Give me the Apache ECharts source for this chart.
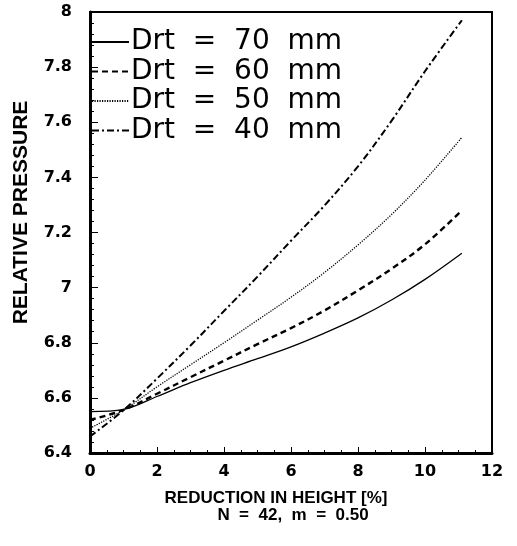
<!DOCTYPE html>
<html>
<head>
<meta charset="utf-8">
<script src="https://cdn.jsdelivr.net/npm/echarts@6/dist/echarts.min.js"></script>
<style>html,body{margin:0;padding:0;background:#fff}#c{width:517px;height:546px}</style>
</head>
<body>
<div id="c"></div>
<script>
var xValues = [0, 1, 2, 3, 4, 5, 6, 7, 8, 9, 10, 11.1];
var seriesNames = ['Drt  =  70  mm', 'Drt  =  60  mm', 'Drt  =  50  mm', 'Drt  =  40  mm'];
var drt70 = [6.55, 6.558, 6.605, 6.655, 6.70, 6.742, 6.785, 6.835, 6.89, 6.955, 7.03, 7.125];
var drt60 = [6.52, 6.556, 6.615, 6.675, 6.735, 6.795, 6.853, 6.917, 6.99, 7.068, 7.157, 7.28];
var drt50 = [6.49, 6.556, 6.64, 6.72, 6.80, 6.882, 6.965, 7.055, 7.155, 7.265, 7.39, 7.545];
var drt40 = [6.46, 6.555, 6.67, 6.79, 6.915, 7.04, 7.17, 7.298, 7.44, 7.605, 7.785, 7.97];
var xTitle = 'REDUCTION IN HEIGHT [%]';
var xSubTitle = 'N  =  42,  m  =  0.50';
var yTitle = 'RELATIVE PRESSURE';

function pairs(ys) { return xValues.map(function (x, i) { return [x, ys[i]]; }); }
var styles = [
  { type: 'solid', width: 1.3 },
  { type: [6, 4], width: 2.4 },
  { type: [1.2, 1.3], width: 1.3 },
  { type: [7, 3, 2, 3], width: 2 }
];
var datas = [drt70, drt60, drt50, drt40];
var series = datas.map(function (d, i) {
  return {
    name: seriesNames[i], type: 'line', data: pairs(d), smooth: 0.35,
    symbol: 'none', showSymbol: false,
    lineStyle: { color: '#000', type: styles[i].type, width: styles[i].width },
    itemStyle: { color: '#000' }
  };
});
var font = 'Liberation Sans, Arial, sans-serif';
var wide = 'DejaVu Sans, sans-serif';
var chart = echarts.init(document.getElementById('c'));
chart.setOption({
  animation: false,
  backgroundColor: '#fff',
  title: {
    text: xSubTitle, left: 293, top: 507, textAlign: 'center', padding: 0,
    textStyle: { fontFamily: font, fontSize: 17, fontWeight: 'bold', color: '#000' }
  },
  grid: { left: 90, right: 25, top: 12, bottom: 93, show: true, borderColor: '#000', borderWidth: 2, backgroundColor: 'transparent' },
  legend: {
    orient: 'vertical', left: 91, top: 28, itemWidth: 37, itemHeight: 14, itemGap: 1.5,
    padding: 0,
    itemStyle: { opacity: 0, borderWidth: 0 },
    data: seriesNames.map(function (n) { return { name: n }; }),
    textStyle: { fontFamily: wide, fontSize: 28, color: '#000', lineHeight: 28, padding: [0, 0, 0, -3] }
  },
  xAxis: {
    type: 'value', min: 0, max: 12, interval: 2,
    name: xTitle, nameLocation: 'middle', nameGap: 37,
    nameTextStyle: { fontFamily: font, fontSize: 17, fontWeight: 'bold', color: '#000', padding: [0, 30, 0, 0] },
    axisLine: { lineStyle: { color: '#000', width: 3 } },
    axisTick: { inside: true, length: 6, lineStyle: { color: '#000' } },
    minorTick: { show: true, splitNumber: 4, length: 3, lineStyle: { color: '#000' } },
    axisLabel: { fontFamily: wide, fontSize: 16, fontWeight: 'bold', color: '#000', margin: 11 },
    splitLine: { show: false }
  },
  yAxis: {
    type: 'value', min: 6.4, max: 8, interval: 0.2,
    name: yTitle, nameLocation: 'middle', nameGap: 58, nameRotate: 90,
    nameTextStyle: { fontFamily: font, fontSize: 21, fontWeight: 'bold', color: '#000', padding: [0, 0, 0, 40] },
    axisLine: { lineStyle: { color: '#000', width: 3 } },
    axisTick: { inside: true, length: 8, lineStyle: { color: '#000' } },
    minorTick: { show: true, splitNumber: 5, length: 4, lineStyle: { color: '#000' } },
    axisLabel: { fontFamily: wide, fontSize: 16, fontWeight: 'bold', color: '#000', margin: 18,
      formatter: function (v) { return String(Math.round(v * 10) / 10); } },
    splitLine: { show: false }
  },
  series: series
});
</script>
</body>
</html>
